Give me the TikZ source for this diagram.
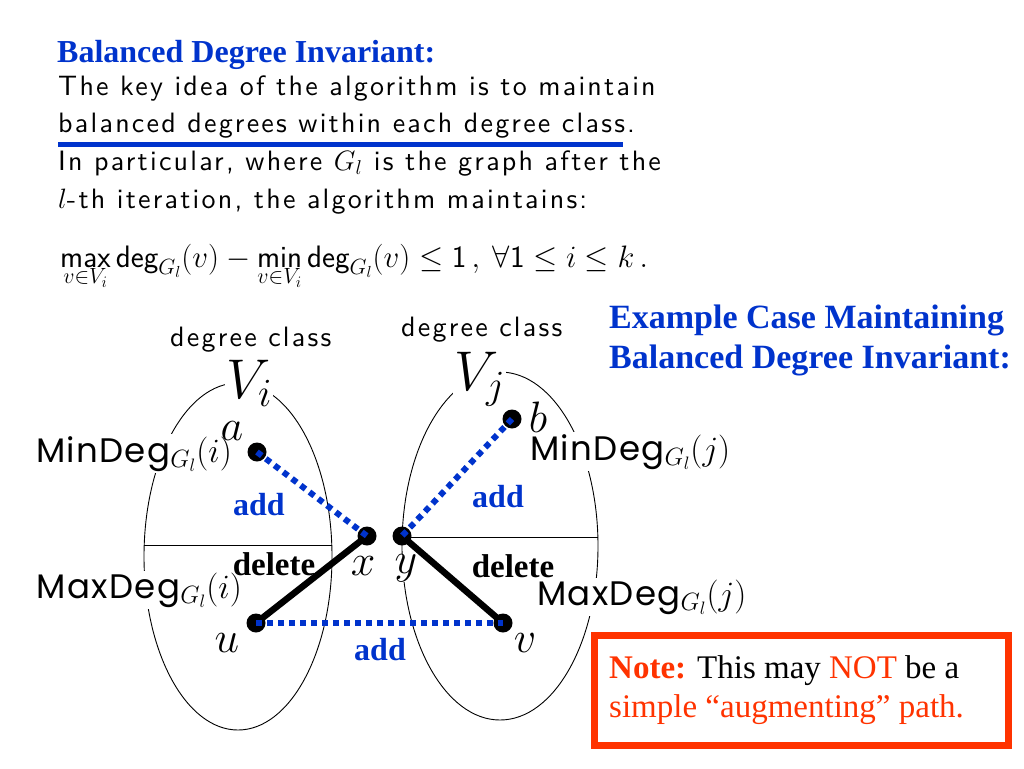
\RequirePackage{fix-cm}
\documentclass[tikz,border=0pt]{standalone}
\usepackage[no-math]{fontspec}
\setmainfont{Liberation Serif}
\newfontfamily\slidesf{lmsans10-regular}[Extension=.otf, LetterSpace=8]
\newfontfamily\degsf{Poppins}[LetterSpace=4]
\usetikzlibrary{shapes.geometric}
\definecolor{slideblue}{RGB}{0,51,204}
\definecolor{notered}{RGB}{255,51,0}
\DeclareMathSizes{28}{28}{20}{15}
\DeclareMathSizes{31}{31}{22}{16}
\DeclareMathSizes{34}{34}{25}{18}
\DeclareMathSizes{44}{44}{31}{22}
\DeclareMathSizes{56}{56}{40}{28}
\newcommand{\sdeg}{\mathop{\textsf{deg}}\nolimits}

\begin{document}
\begin{tikzpicture}[
			x=1pt, y=-1pt,
			ttl/.style={anchor=base west, inner sep=0pt, text=slideblue, font=\fontsize{32}{38}\selectfont\bfseries},
			txt/.style={anchor=base west, inner sep=0pt, font=\fontsize{28}{34}\selectfont\slidesf},
			cls/.style={ellipse, draw, line width=0.9pt, inner sep=0pt},
			dot/.style={circle, fill=black, inner sep=0pt, minimum size=19pt},
			vlbl/.style={anchor=base, inner sep=0pt, font=\fontsize{44}{44}\selectfont},
			deglbl/.style={fill=white, inner sep=2pt, font=\fontsize{34}{38}\selectfont\degsf},
			addtxt/.style={text=slideblue, font=\fontsize{32}{36}\selectfont\bfseries},
			deltxt/.style={font=\fontsize{33}{36}\selectfont\bfseries},
			addline/.style={slideblue, line width=6pt, dash pattern=on 6pt off 5pt},
			delline/.style={line width=6.5pt},
			notetxt/.style={anchor=base west, inner sep=0pt, font=\fontsize{33}{39}\selectfont}
			]
			\useasboundingbox (0,0) rectangle (1024,768);
			
			% Texto de cima
			\node[ttl] (head) at (57,63) {Balanced Degree Invariant:};
			\node[txt] (l1) at (58,95) {The key idea of the algorithm is to maintain};
			\node[txt] (l2) at (58,132) {balanced degrees within each degree class.};
			\draw[slideblue, line width=5.5pt] ([yshift=-12.5pt]l2.base west) -- ++(565,0);
			\node[txt] (l3) at (58,170) {In particular, where $G_l$ is the graph after the};
			\node[txt] (l4) at (58,208) {$l$-th iteration, the algorithm maintains:};
			\node[txt, font=\fontsize{31}{36}\selectfont] (inv) at (60,267)
				{$\mathop{\textsf{max}}\limits_{v\in V_i}\sdeg_{G_l}(v)-\mathop{\textsf{min}}\limits_{v\in V_i}\sdeg_{G_l}(v)\le\textsf{1}\,,\ \forall\textsf{1}\le i\le k\,.$};
			
			% Titulo da direita
			\node[ttl, font=\fontsize{34}{40}\selectfont\bfseries] (ex1) at (609,328) {Example Case Maintaining};
			\node[ttl, font=\fontsize{34}{40}\selectfont\bfseries] (ex2) at (609,368) {Balanced Degree Invariant:};
			
			% Classes de grau
			\node[txt] (dci) at (170,346) {degree class};
			\node[txt] (dcj) at (401,336) {degree class};
			\node[cls, minimum width=188pt, minimum height=347pt] (Vi) at (238,556.5) {};
			\node[cls, minimum width=196pt, minimum height=348pt] (Vj) at (500,546) {};
			\draw[line width=0.9pt] ([yshift=11.5pt]Vi.west) -- ([yshift=11.5pt]Vi.east);
			\draw[line width=0.9pt] ([yshift=9pt]Vj.west) -- ([yshift=9pt]Vj.east);
			\node[anchor=base west, fill=white, inner sep=1pt, font=\fontsize{56}{56}\selectfont] (Vilbl) at (225,398) {$V_i$};
			\node[anchor=base west, fill=white, inner sep=1pt, font=\fontsize{56}{56}\selectfont] (Vjlbl) at (453,390) {$V_j$};
			
			% Vertices
			\node[dot] (a) at (257,452) {};
			\node[dot] (b) at (512,419) {};
			\node[dot] (x) at (367,536) {};
			\node[dot] (y) at (402,536) {};
			\node[dot] (u) at (256,623) {};
			\node[dot] (v) at (503,623) {};
			
			% Arestas
			\draw[delline] (x.center) -- (u.center);
			\draw[delline] (y.center) -- (v.center);
			\draw[addline] (a.center) -- (x.center);
			\draw[addline] (b.center) -- (y.center);
			\draw[addline] (u.center) -- (v.center);
			
			% Rotulos
			\node[deglbl, anchor=base east] (mini) at (234,462) {MinDeg$_{G_l}(i)$};
			\node[deglbl, anchor=base east] (maxi) at (244,598) {MaxDeg$_{G_l}(i)$};
			\node[deglbl, anchor=base west] (minj) at (528,460) {MinDeg$_{G_l}(j)$};
			\node[deglbl, anchor=base west] (maxj) at (535,605) {MaxDeg$_{G_l}(j)$};
			\node[vlbl] (la) at (232,440) {$a$};
			\node[vlbl] (lb) at (538,432) {$b$};
			\node[vlbl, fill=white] (lx) at (363,575) {$x$};
			\node[vlbl, fill=white] (ly) at (406,573) {$y$};
			\node[vlbl] (lu) at (227,652) {$u$};
			\node[vlbl] (lv) at (525,652) {$v$};
			\node[addtxt] (add1) at (259,505) {add};
			\node[addtxt] (add2) at (498,497) {add};
			\node[addtxt] (add3) at (380,650) {add};
			\node[deltxt] (del1) at (274,564) {delete};
			\node[deltxt] (del2) at (513,566) {delete};
			
			% Nota
			\node[draw=notered, line width=7pt, fill=white, anchor=north west, minimum width=414pt, minimum height=110pt] (notebox) at (590.5,631.5) {};
			\node[notetxt] (note1) at (609,678) {\textcolor{notered}{\bfseries Note:} This may \textcolor{notered}{NOT} be a};
			\node[notetxt, text=notered] (note2) at (609,717) {simple “augmenting” path.};
			
		\end{tikzpicture}
\end{document}
